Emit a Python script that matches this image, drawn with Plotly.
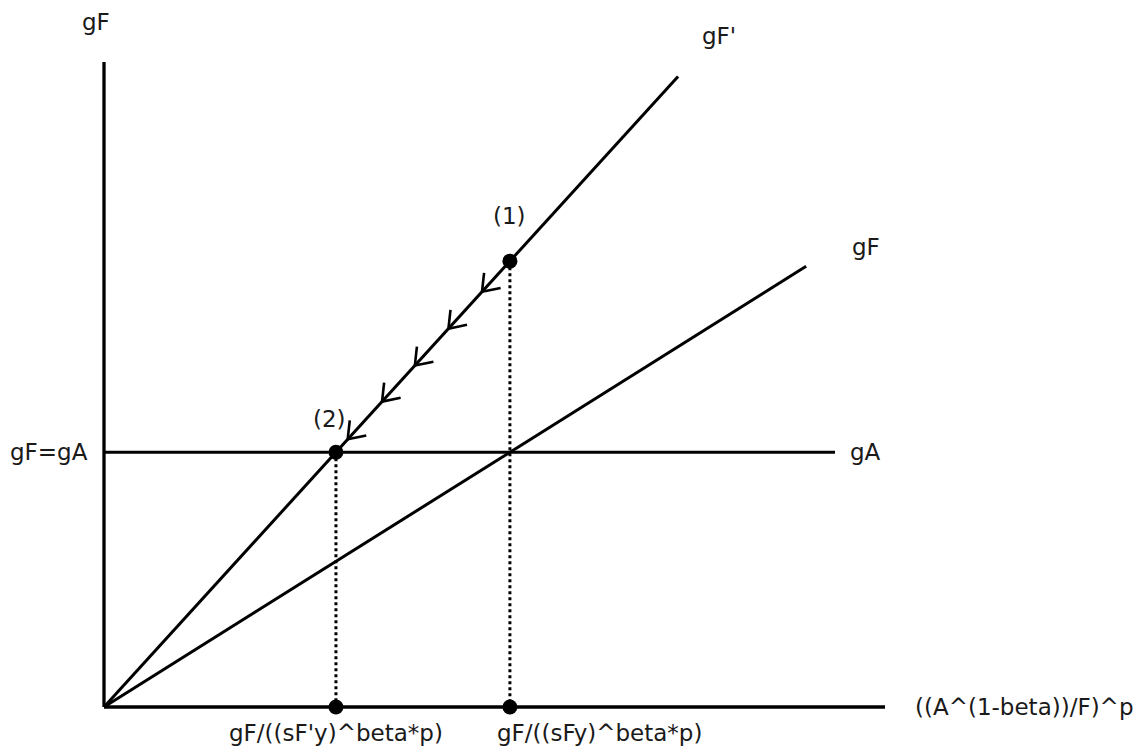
import math
import plotly.graph_objects as go

# Growth model parameters (model units)
gA_level = 3.95          # horizontal gA line, gF = gA
slope_gF_prime = 1.33    # steeper gF' schedule
slope_gF = 0.76          # flatter gF schedule
axis_len_x = 10.0
axis_len_y = 10.0
gA_end_x = 9.36
gF_prime_end_x = 7.35
gF_end_x = 8.99

# Positions along gF' where the direction arrows sit (x values of the tips)
arrow_x = [4.84, 4.41, 3.98, 3.56, 3.12]

# Text labels
axis_y_label = "gF"
axis_x_label = "((A^(1-beta))/F)^p"
tick_label_2 = "gF/((sF'y)^beta*p)"
tick_label_1 = "gF/((sFy)^beta*p)"
level_label = "gF=gA"

# Equilibria
x1 = gA_level / slope_gF          # point (1) on gF' above gF/gA crossing
y1 = slope_gF_prime * x1
x2 = gA_level / slope_gF_prime    # point (2) on gF' at gA
y2 = gA_level

W, H = 1141, 749
px_per_x = 78.1
px_per_y = 64.5
ox, oy = 104, 707
x_range = [-ox / px_per_x, (W - ox) / px_per_x]
y_range = [-(H - oy) / px_per_y, oy / px_per_y]

BLACK = "#000000"
TXT = "#1a1a1a"
FONT = "DejaVu Sans"
FS = 23

fig = go.Figure()

def seg(xs, ys, width=3.0, dash="solid"):
    fig.add_trace(go.Scatter(x=xs, y=ys, mode="lines",
                             line=dict(color=BLACK, width=width, dash=dash),
                             hoverinfo="skip", showlegend=False))

# Axes
seg([0, 0], [0, axis_len_y], width=3.3)
seg([0, axis_len_x], [0, 0], width=3.3)

# Schedules
seg([0, gF_prime_end_x], [0, slope_gF_prime * gF_prime_end_x])
seg([0, gF_end_x], [0, slope_gF * gF_end_x])
seg([0, gA_end_x], [gA_level, gA_level])

# Dotted drop lines
seg([x1, x1], [y1, 0], width=3.0, dash="dot")
seg([x2, x2], [y2, 0], width=3.0, dash="dot")

# Direction arrows along gF' pointing toward (2): open chevrons whose
# barbs trail back up the line, built in screen space then mapped to data
back_px = (px_per_x, slope_gF_prime * px_per_y)     # up-right on screen
norm = math.hypot(*back_px)
bx, by = back_px[0] / norm, back_px[1] / norm
barb_len = 19.0
spread = math.radians(36)
bxs, bys = [], []
for ax in arrow_x:
    ay = slope_gF_prime * ax
    for s in (spread, -spread):
        cx = bx * math.cos(s) - by * math.sin(s)
        cy = bx * math.sin(s) + by * math.cos(s)
        bxs += [ax, ax + cx * barb_len / px_per_x, None]
        bys += [ay, ay + cy * barb_len / px_per_y, None]
fig.add_trace(go.Scatter(x=bxs, y=bys, mode="lines",
                         line=dict(color=BLACK, width=2.6),
                         hoverinfo="skip", showlegend=False))

# Points
fig.add_trace(go.Scatter(
    x=[x1, x2, x1, x2], y=[y1, y2, 0, 0], mode="markers",
    marker=dict(symbol="circle", size=15, color=BLACK),
    hoverinfo="skip", showlegend=False))

def label(x, y, text, xanchor="center", yanchor="middle"):
    fig.add_annotation(x=x, y=y, text=text, showarrow=False,
                       xanchor=xanchor, yanchor=yanchor,
                       font=dict(family=FONT, size=FS, color=TXT))

label(-0.1, 10.62, axis_y_label)
label(7.88, 10.4, "gF'")
label(x1, 7.62, "(1)")
label(9.76, 7.13, "gF")
label(2.89, 4.47, "(2)")
label(-0.18, gA_level, level_label, xanchor="right")
label(9.53, gA_level, "gA", xanchor="left")
label(10.36, 0.0, axis_x_label, xanchor="left")
label(x2, -0.40, tick_label_2)
label(6.35, -0.40, tick_label_1)

fig.update_layout(
    width=W, height=H,
    margin=dict(l=0, r=0, t=0, b=0),
    paper_bgcolor="white", plot_bgcolor="white",
    xaxis=dict(range=x_range, visible=False, fixedrange=True),
    yaxis=dict(range=y_range, visible=False, fixedrange=True),
)

fig.write_html("out.html")
